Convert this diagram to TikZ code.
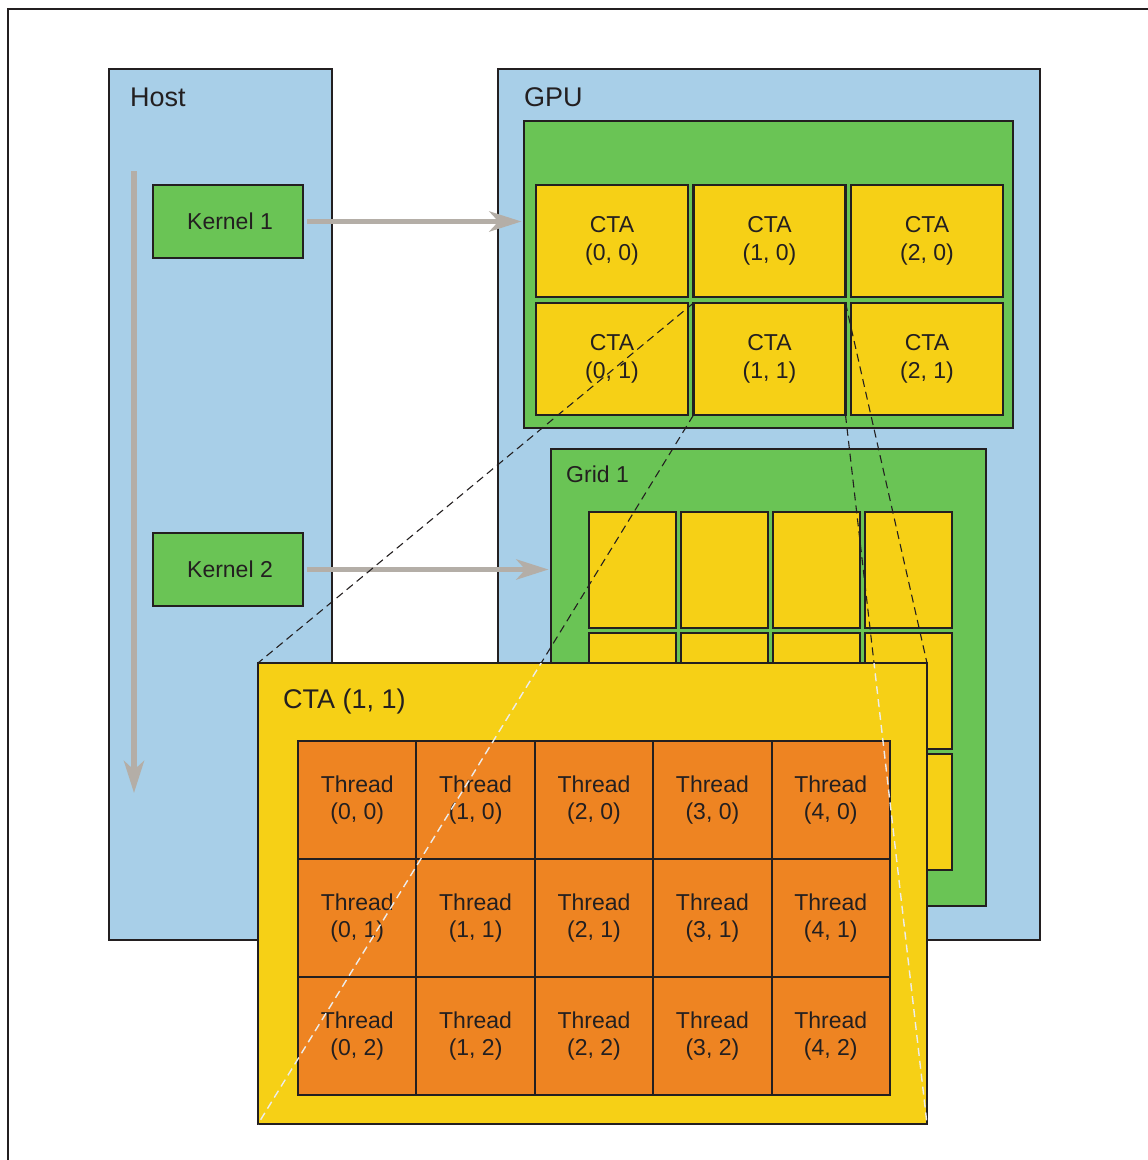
\documentclass[tikz,border=0pt]{standalone}
\usepackage{fontspec}
\setmainfont{Liberation Sans}
\usepackage{tikz}
\usetikzlibrary{positioning,calc,arrows.meta}

\definecolor{hostblue}{RGB}{168,207,232}
\definecolor{gridgreen}{RGB}{106,196,85}
\definecolor{ctayellow}{RGB}{246,208,22}
\definecolor{throrange}{RGB}{238,132,34}
\definecolor{flowgray}{RGB}{180,174,167}
\definecolor{edgedark}{RGB}{35,31,32}

\tikzset{
  box/.style={draw=edgedark, line width=2pt, anchor=north west, inner sep=0pt, outer sep=0pt,
    text=edgedark, align=center, font=\fontsize{23}{27.5}\selectfont},
  title/.style={anchor=base west, inner sep=0pt, text=edgedark, font=\fontsize{27}{32}\selectfont},
  subtitle/.style={anchor=base west, inner sep=0pt, text=edgedark, font=\fontsize{23}{27}\selectfont},
  flow/.style={draw=flowgray, line width=5.5pt, -{Stealth[length=32pt, width=20pt, inset=9pt]}},
  guide/.style={draw=edgedark, line width=1.1pt, dash pattern=on 8pt off 5pt},
}

\begin{document}
\begin{tikzpicture}[x=1pt, y=-1pt]
    \useasboundingbox (0,0) rectangle (1148,1160);
    \clip (0,0) rectangle (1148,1160);
    \draw[line width=2.5pt, edgedark] (8,9) rectangle (1200,1220);

    % Host side
    \node[box, fill=hostblue, minimum width=223pt, minimum height=871pt] (host) at (109,69) {};
    \node[title] (hostlbl) at (130,106) {Host};
    \node[box, fill=gridgreen, line width=2.6pt, minimum width=150pt, minimum height=73pt] (k1) at (153,185) {\hspace{4pt}Kernel 1};
    \node[box, fill=gridgreen, line width=2.6pt, minimum width=150pt, minimum height=73pt] (k2) at (153,533) {\hspace{4pt}Kernel 2};

    % GPU side
    \node[box, fill=hostblue, minimum width=542pt, minimum height=871pt] (gpu) at (498,69) {};
    \node[title] (gpulbl) at (524,106) {GPU};
    \node[box, fill=gridgreen, line width=2.4pt, minimum width=489pt, minimum height=307pt] (grid0) at (524,121) {};
    \foreach \i in {0,1,2}
      \foreach \j in {0,1}
        \node[box, fill=ctayellow, line width=2.6pt, minimum width=152pt, minimum height=112pt]
          (cta\i\j) at ({536+157.5*\i},{185+118*\j}) {CTA\\(\i, \j)};

    \node[box, fill=gridgreen, line width=2.4pt, minimum width=435pt, minimum height=457pt] (grid1) at (551,449) {};
    \node[subtitle] (grid1lbl) at (566,482) {Grid 1};
    \foreach \i in {0,...,3}
      \foreach \j in {0,1,2}
        \node[box, fill=ctayellow, minimum width=87pt, minimum height=116pt]
          (blk\i\j) at ({589+92*\i},{512+121*\j}) {};

    % launches
    \coordinate (flowtop) at (134,171);
    \coordinate (flowbot) at (134,793);
    \draw[flow] (flowtop) -- (flowbot);
    \draw[flow, shorten <=4pt, shorten >=2.5pt] (k1.east) -- (k1.east -| grid0.west);
    \draw[flow, shorten <=4pt, shorten >=2.5pt] (k2.east) -- (k2.east -| grid1.west);

    % zoom lines
    \coordinate (bignw) at (258,663);
    \coordinate (bigne) at (927,663);
    \coordinate (bigsw) at (258,1124);
    \coordinate (bigse) at (927,1124);
    \draw[guide] (cta11.north west) -- (bignw);
    \draw[guide] (cta11.north east) -- (bigne);
    \draw[guide] (cta11.south west) -- (bigsw);
    \draw[guide] (cta11.south east) -- (bigse);

    % CTA (1, 1) blown up
    \node[box, fill=ctayellow, minimum width=669pt, minimum height=461pt] (big) at (bignw) {};
    \node[title] (biglbl) at (283,708) {CTA (1, 1)};
    \foreach \i in {0,...,4}
      \foreach \j in {0,1,2}
        \node[box, fill=throrange, minimum width=118.4pt, minimum height=118pt]
          (thr\i\j) at ({298+118.4*\i},{741+118*\j}) {Thread\\(\i, \j)};

    \begin{scope}
      \clip (big.north west) rectangle (big.south east);
      \draw[guide, line width=1.4pt, draw=white!85!gray] (cta11.south west) -- (bigsw);
      \draw[guide, line width=1.4pt, draw=white!85!gray] (cta11.south east) -- (bigse);
    \end{scope}
\end{tikzpicture}
\end{document}
